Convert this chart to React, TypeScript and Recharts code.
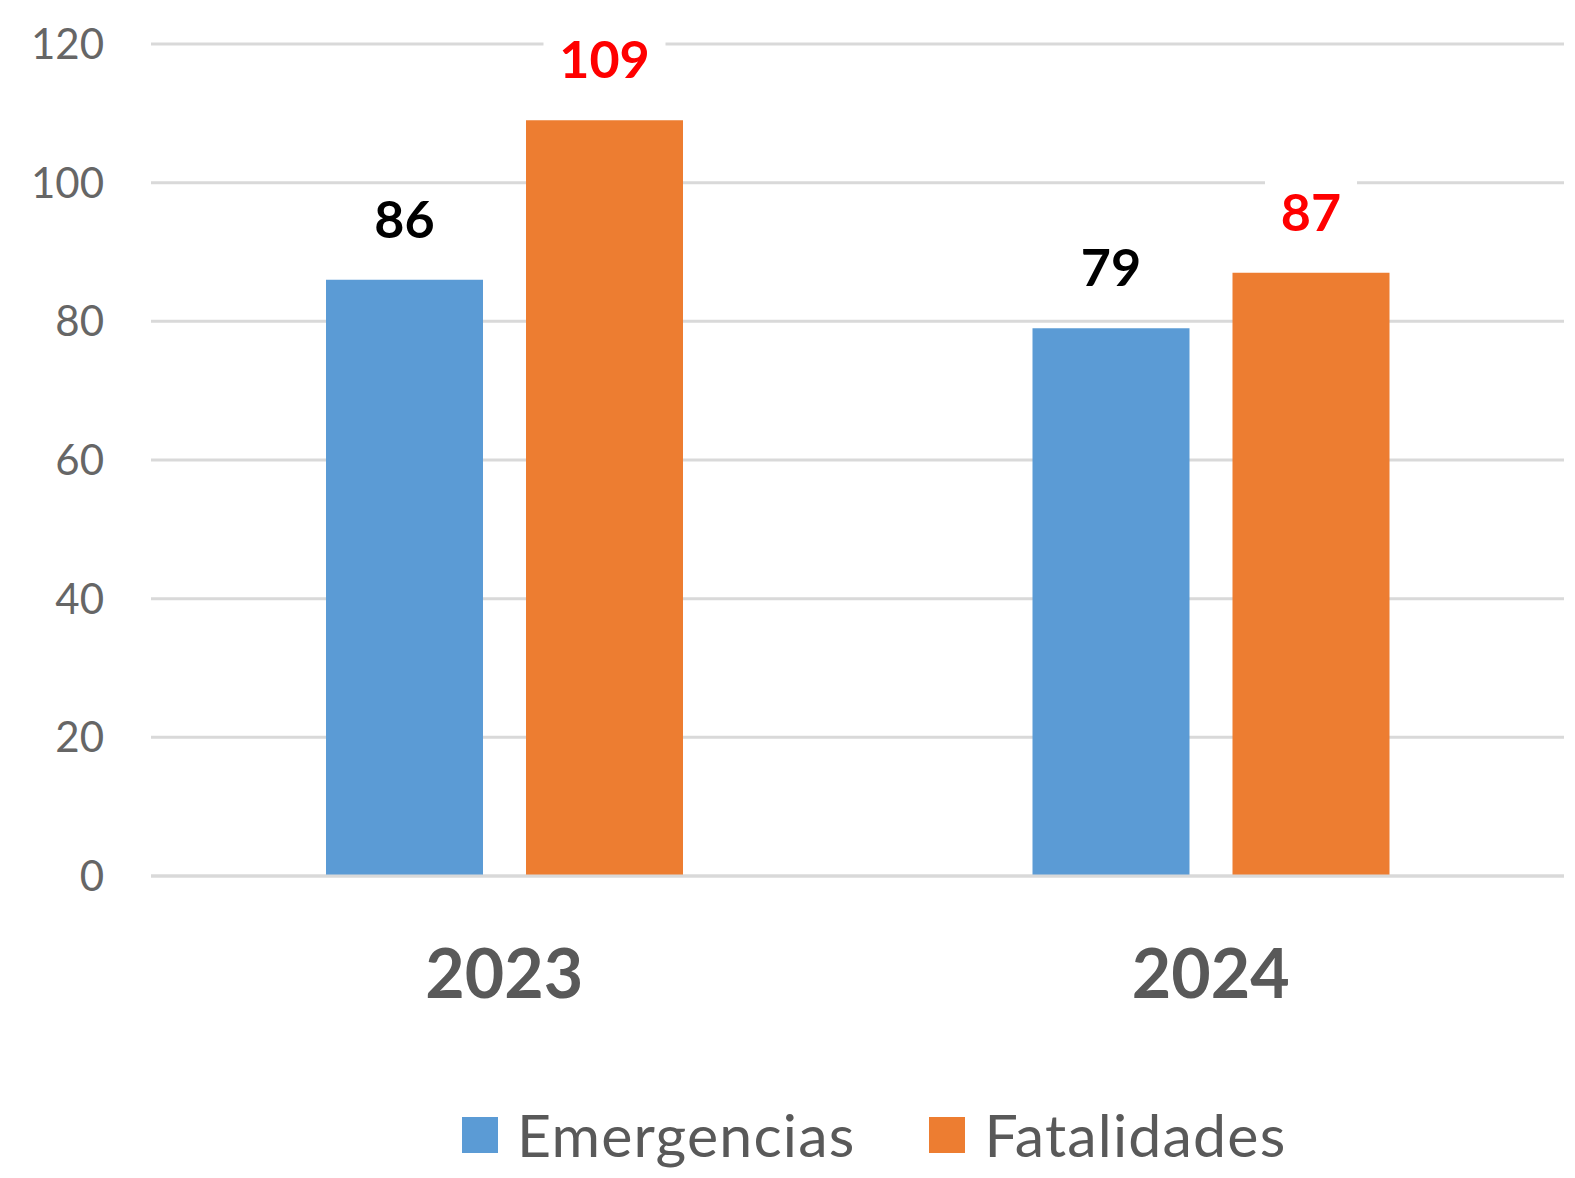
import React from 'react'
import { BarChart, Bar, XAxis, YAxis, CartesianGrid, Legend, LabelList } from 'recharts'

const years = ['2023', '2024']
const emergencias = [86, 79]
const fatalidades = [109, 87]
const yTicks = [0, 20, 40, 60, 80, 100, 120]

const data = years.map((year, i) => ({
  year,
  Emergencias: emergencias[i],
  Fatalidades: fatalidades[i],
}))

const FONT = 'Lato, "Open Sans", sans-serif'

// value label with a white box behind it, so gridlines break around the number
function makeLabel(color: string) {
  return (props: any) => {
    const { x, y, width, value } = props
    const cx = x + width / 2
    const base = y - 42
    const w = String(value).length * 30 + 32
    return (
      <g>
        <rect x={cx - w / 2} y={base - 50} width={w} height={60} fill="#fff" />
        <text x={cx} y={base} textAnchor="middle" fill={color} fontSize={52} fontWeight={700} fontFamily={FONT}>
          {value}
        </text>
      </g>
    )
  }
}

function LegendContent({ payload }: any) {
  return (
    <div style={{ display: 'flex', alignItems: 'center', fontFamily: FONT }}>
      {(payload ?? []).map((p: any, i: number) => (
        <div key={p.value} style={{ display: 'flex', alignItems: 'center', marginLeft: i ? 74 : 0 }}>
          <span style={{ width: 36, height: 36, background: p.color, display: 'inline-block', marginRight: 19 }} />
          <span style={{ fontSize: 59, color: '#595959', lineHeight: '60px', letterSpacing: 1.2 }}>{p.value}</span>
        </div>
      ))}
    </div>
  )
}

export default function App() {
  return (
    <div style={{ position: 'absolute', left: 0, top: 0, background: '#fff' }}>
      <BarChart
        width={1575}
        height={1178}
        data={data}
        margin={{ top: 44, right: 11, left: 0, bottom: 0 }}
        barSize={157}
        barGap={43}
      >
        <CartesianGrid vertical={false} stroke="#d9d9d9" strokeWidth={3} />
        <XAxis
          dataKey="year"
          axisLine={{ stroke: '#d9d9d9', strokeWidth: 3 }}
          tickLine={false}
          tickSize={0}
          tickMargin={74}
          height={242}
          tick={{ fontSize: 68, fontWeight: 700, fill: '#595959', fontFamily: FONT }}
        />
        <YAxis
          width={151}
          domain={[0, 120]}
          ticks={yTicks}
          axisLine={false}
          tickLine={false}
          tickSize={0}
          tickMargin={47}
          tick={{ fontSize: 42, fill: '#666666', fontFamily: FONT }}
        />
        <Legend
          content={<LegendContent />}
          wrapperStyle={{ position: 'absolute', left: 462, top: 1105, width: 'auto', bottom: 'auto' }}
        />
        <Bar dataKey="Emergencias" fill="#5b9bd5" isAnimationActive={false}>
          <LabelList dataKey="Emergencias" content={makeLabel('#000000')} />
        </Bar>
        <Bar dataKey="Fatalidades" fill="#ed7d31" isAnimationActive={false}>
          <LabelList dataKey="Fatalidades" content={makeLabel('#ff0000')} />
        </Bar>
      </BarChart>
    </div>
  )
}
